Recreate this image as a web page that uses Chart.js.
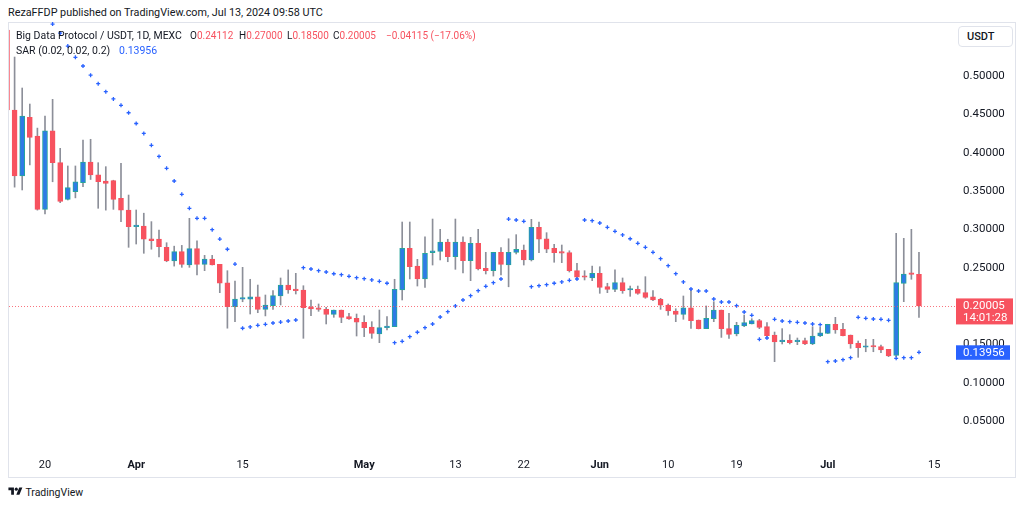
<!DOCTYPE html>
<html>
<head>
<meta charset="utf-8">
<script src="https://cdn.jsdelivr.net/npm/chart.js@4.4.1/dist/chart.umd.min.js"></script>
<style>
  html, body { margin: 0; padding: 0; background: #fff; }
  body { width: 1024px; height: 507px; position: relative; overflow: hidden;
         font-family: Roboto, "Noto Sans", sans-serif; color: #131722; }
  .t { position: absolute; white-space: nowrap; line-height: 14px; }
  .lg { font-size: 10px; top: 29px; }
  #pane { position: absolute; left: 8px; top: 22px; width: 1008px; height: 456px;
          border: 1px solid #e0e3eb; box-sizing: border-box; }
  #chart { position: absolute; left: 8px; top: 22px; }
  .red { color: #f7525f; }
  .blue { color: #2962ff; }
  #usdt { position: absolute; left: 958px; top: 26px; width: 55px; height: 21px; box-sizing: border-box;
          border: 1px solid #e0e3eb; border-radius: 4px; font-size: 11px; font-weight: 500;
          line-height: 19px; padding-left: 8px; background: #fff; }
</style>
</head>
<body>
<div class="t" id="hdr" style="left:8px;top:6px;font-size:10.8px;">RezaFFDP published on TradingView.com, Jul 13, 2024 09:58 UTC</div>
<div id="pane"></div>
<canvas id="chart" width="1008" height="456"></canvas>

<!-- легенда -->
<div class="t lg" style="left:16px;font-size:10.5px;">Big Data Protocol / USDT, 1D, MEXC</div>
<div class="t lg" style="left:190px;">O<span class="red">0.24112</span></div>
<div class="t lg" style="left:239px;">H<span class="red">0.27000</span></div>
<div class="t lg" style="left:287px;">L<span class="red">0.18500</span></div>
<div class="t lg" style="left:333px;">C<span class="red">0.20005</span></div>
<div class="t lg red" style="left:386px;">−0.04115 (−17.06%)</div>
<div class="t" style="left:16px;top:44px;font-size:10.5px;">SAR (0.02, 0.02, 0.2)</div>
<div class="t blue" style="left:119px;top:44px;font-size:10.5px;">0.13956</div>
<div id="usdt">USDT</div>

<!-- логотип -->
<div class="t" style="left:8px;top:486px;font-size:10.5px;">
  <svg width="15" height="11" viewBox="0 0 36 28" style="vertical-align:-1px"><path d="M14 22H7V11H0V4h14v18zM28 22h-8l7.5-18h8L28 22z" fill="#131722"/><circle cx="20" cy="8" r="4" fill="#131722"/></svg>
  TradingView
</div>

<script>
// Дані: дні від 15 березня 2024 (індекс 0) до 13 липня 2024 (індекс 120)
const startDate = "2024-03-15";

const opens = [
  0.560, 0.4556, 0.3695, 0.446, 0.4217, 0.326, 0.4286, 0.3869, 0.339, 0.349,
  0.3608, 0.3878, 0.3712, 0.363, 0.3634, 0.3404, 0.3252, 0.3034, 0.3043, 0.2877,
  0.2873, 0.2765, 0.2586, 0.2708, 0.2534, 0.2747, 0.2543, 0.261, 0.2543, 0.2303,
  0.199, 0.209, 0.209, 0.212, 0.1956, 0.2003, 0.213, 0.2273, 0.2217, 0.2208,
  0.199, 0.1965, 0.1956, 0.1891, 0.1947, 0.186, 0.1839, 0.1787, 0.1726, 0.1634,
  0.1717, 0.173, 0.2208, 0.2752, 0.2521, 0.2352, 0.2695, 0.2713, 0.2834, 0.2643,
  0.2834, 0.259, 0.2817, 0.249, 0.246, 0.270, 0.2534, 0.270, 0.273, 0.260,
  0.3026, 0.2877, 0.2752, 0.2708, 0.2695, 0.246, 0.2387, 0.2365, 0.2426, 0.2252,
  0.2217, 0.2304, 0.2208, 0.2217, 0.2173, 0.212, 0.2087, 0.2013, 0.1934, 0.1891,
  0.1977, 0.1817, 0.1704, 0.1834, 0.1947, 0.1704, 0.1634, 0.1739, 0.1765, 0.1808,
  0.173, 0.1621, 0.1534, 0.1552, 0.1534, 0.1547, 0.1504, 0.1608, 0.1643, 0.1761,
  0.1695, 0.1621, 0.1513, 0.1461, 0.1469, 0.1469, 0.1434, 0.1356, 0.2295, 0.2417,
  0.24112
];
const highs = [
  0.585, 0.5247, 0.4843, 0.4634, 0.432, 0.4478, 0.4695, 0.4056, 0.3826, 0.3826,
  0.4165, 0.4174, 0.3869, 0.3817, 0.3640, 0.386, 0.3447, 0.3252, 0.321, 0.310,
  0.299, 0.2825, 0.278, 0.279, 0.3143, 0.285, 0.266, 0.266, 0.2543, 0.246,
  0.2326, 0.2504, 0.2348, 0.2273, 0.2143, 0.220, 0.2365, 0.247, 0.2426, 0.2264,
  0.2078, 0.2026, 0.1982, 0.1947, 0.1947, 0.1904, 0.1895, 0.1873, 0.1795, 0.1947,
  0.186, 0.2348, 0.3095, 0.3095, 0.2608, 0.2903, 0.3134, 0.300, 0.287, 0.3134,
  0.2903, 0.2895, 0.300, 0.270, 0.270, 0.276, 0.2877, 0.293, 0.2795, 0.313,
  0.3095, 0.2956, 0.2804, 0.2795, 0.272, 0.2556, 0.246, 0.252, 0.2512, 0.2296,
  0.247, 0.2365, 0.226, 0.226, 0.2382, 0.220, 0.210, 0.2026, 0.1964, 0.213,
  0.2208, 0.1817, 0.200, 0.2056, 0.1947, 0.1904, 0.1787, 0.1882, 0.1834, 0.1826,
  0.1782, 0.166, 0.1704, 0.1625, 0.1582, 0.1582, 0.173, 0.1721, 0.1761, 0.1852,
  0.1774, 0.1621, 0.1543, 0.1565, 0.1565, 0.149, 0.1434, 0.2948, 0.2882, 0.300,
  0.270
];
const lows = [
  0.450, 0.355, 0.3513, 0.384, 0.325, 0.320, 0.362, 0.3347, 0.3382, 0.341,
  0.3556, 0.365, 0.3274, 0.325, 0.326, 0.310, 0.2765, 0.2808, 0.2687, 0.274,
  0.264, 0.2577, 0.252, 0.2504, 0.2504, 0.2404, 0.246, 0.2534, 0.2173, 0.171,
  0.1795, 0.2055, 0.1895, 0.1912, 0.187, 0.1956, 0.2013, 0.2165, 0.2156, 0.1578,
  0.1874, 0.193, 0.1765, 0.1852, 0.1782, 0.1826, 0.1608, 0.160, 0.1578, 0.1521,
  0.1687, 0.173, 0.2078, 0.2352, 0.226, 0.2243, 0.2534, 0.260, 0.2577, 0.2478,
  0.243, 0.233, 0.247, 0.2417, 0.239, 0.2404, 0.225, 0.2678, 0.2534, 0.2587,
  0.2695, 0.2695, 0.257, 0.2565, 0.2443, 0.2348, 0.2339, 0.233, 0.2165, 0.2173,
  0.2186, 0.2165, 0.2126, 0.2152, 0.210, 0.2069, 0.1956, 0.1878, 0.1795, 0.1826,
  0.1708, 0.170, 0.1704, 0.1795, 0.159, 0.1578, 0.161, 0.173, 0.1765, 0.1704,
  0.160, 0.1273, 0.1504, 0.1504, 0.1495, 0.1495, 0.1495, 0.160, 0.164, 0.1643,
  0.1608, 0.1448, 0.133, 0.1403, 0.1403, 0.139, 0.1339, 0.1339, 0.2056, 0.2348,
  0.185
];
const closes = [
  0.4556, 0.3695, 0.4478, 0.420, 0.326, 0.4286, 0.3869, 0.3365, 0.3543, 0.362,
  0.3878, 0.371, 0.362, 0.360, 0.3391, 0.325, 0.3034, 0.304, 0.287, 0.2852,
  0.2773, 0.2586, 0.2708, 0.2543, 0.2747, 0.2543, 0.261, 0.2534, 0.2296, 0.199,
  0.209, 0.2095, 0.212, 0.1956, 0.2013, 0.2134, 0.2273, 0.2208, 0.220, 0.1977,
  0.196, 0.1956, 0.1891, 0.1947, 0.1852, 0.183, 0.1787, 0.1717, 0.1643, 0.1717,
  0.1739, 0.2217, 0.2752, 0.2512, 0.2352, 0.2687, 0.272, 0.2834, 0.2643, 0.2834,
  0.259, 0.2817, 0.2482, 0.246, 0.270, 0.2543, 0.270, 0.2739, 0.260, 0.3026,
  0.287, 0.274, 0.2695, 0.2687, 0.246, 0.2374, 0.2374, 0.2426, 0.2243, 0.2217,
  0.2304, 0.220, 0.2213, 0.2165, 0.2113, 0.2078, 0.2009, 0.1934, 0.1891, 0.1977,
  0.1808, 0.1704, 0.1839, 0.1947, 0.1704, 0.163, 0.1748, 0.1782, 0.1808, 0.1721,
  0.1612, 0.153, 0.1543, 0.1521, 0.1539, 0.1504, 0.1608, 0.1651, 0.1761, 0.1687,
  0.1612, 0.1504, 0.1456, 0.1465, 0.1465, 0.1426, 0.1347, 0.2304, 0.2417, 0.24112,
  0.20005
];
// Parabolic SAR (0.02, 0.02, 0.2); перші точки за межами видимої області
const sarValues = [
  null, null, null, null, null, null, 0.5677, 0.556, 0.539, 0.5243,
  0.513, 0.501, 0.490, 0.4795, 0.470, 0.4617, 0.452, 0.438, 0.425, 0.4096,
  0.395, 0.3795, 0.363, 0.3456, 0.3274, 0.3143, 0.3143, 0.2995, 0.2873, 0.274,
  0.2547, 0.1709, 0.1726, 0.1748, 0.176, 0.1778, 0.179, 0.1804, 0.1817, 0.250,
  0.2482, 0.246, 0.2443, 0.242, 0.2408, 0.2387, 0.2369, 0.2356, 0.2339, 0.2322,
  0.2296, 0.1521, 0.1539, 0.160, 0.1657, 0.1717, 0.1765, 0.1856, 0.1925, 0.200,
  0.2078, 0.2134, 0.220, 0.2256, 0.2304, 0.2352, 0.3134, 0.3121, 0.3104, 0.2252,
  0.2265, 0.2278, 0.2296, 0.2313, 0.2335, 0.2352, 0.3121, 0.3112, 0.3082, 0.3026,
  0.2974, 0.2926, 0.2877, 0.2817, 0.2765, 0.270, 0.2617, 0.2525, 0.2421, 0.2313,
  0.2221, 0.2195, 0.2195, 0.2091, 0.2052, 0.2052, 0.2004, 0.1921, 0.1878, 0.1565,
  0.1582, 0.1826, 0.1804, 0.1795, 0.1787, 0.1778, 0.1765, 0.1756, 0.1273, 0.1282,
  0.130, 0.1325, 0.1852, 0.1839, 0.183, 0.1826, 0.1813, 0.1317, 0.1325, 0.1325,
  0.13956
];

// Підписи осей
const timeTickIdx = [5, 17, 31, 47, 59, 68, 78, 87, 96, 108, 122];
const timeTickLabels = ["20", "Apr", "15", "May", "13", "22", "Jun", "10", "19", "Jul", "15"];
const monthLabels = ["Apr", "May", "Jun", "Jul"];
const priceTicks = [0.05, 0.10, 0.15, 0.20, 0.25, 0.30, 0.35, 0.40, 0.45, 0.50];

const lastClose = 0.20005;
const lastSar = 0.13956;
const countdown = "14:01:28";

// Кольори
const UP = "#2e7be6";
const UP_BORDER = "#26a69a";
const DOWN = "#f7525f";
const WICK = "#8c8f99";
const SAR_COLOR = "#2962ff";
const FONT = "Roboto, 'Noto Sans', sans-serif";

// 1) Набори даних для свічок
const isUp = closes.map((c, i) => c >= opens[i]);
const wickData = opens.map((o, i) => ({ x: i, y: [lows[i], highs[i]] }));
const bodyData = opens.map((o, i) => ({ x: i, y: [o, closes[i]] }));
const sarData = sarValues.map((v, i) => ({ x: i, y: v }));

// 2) Плагін: пунктир останньої ціни та мітки на шкалі
const priceTags = {
  id: "priceTags",
  afterDraw(chart) {
    const { ctx, chartArea, scales } = chart;
    const yClose = scales.y.getPixelForValue(lastClose);
    const ySar = scales.y.getPixelForValue(lastSar);
    ctx.save();
    ctx.strokeStyle = "rgba(247,82,95,0.8)";
    ctx.lineWidth = 1;
    ctx.setLineDash([1, 2]);
    ctx.beginPath();
    ctx.moveTo(chartArea.left, Math.round(yClose) + 0.5);
    ctx.lineTo(chartArea.right + 8, Math.round(yClose) + 0.5);
    ctx.stroke();
    ctx.setLineDash([]);

    const x0 = chartArea.right + 8;
    ctx.fillStyle = DOWN;
    ctx.fillRect(x0, yClose - 7.5, 57, 26);
    ctx.fillStyle = SAR_COLOR;
    ctx.fillRect(x0, ySar - 7, 54, 14.5);

    ctx.fillStyle = "#fff";
    ctx.font = "11.5px " + FONT;
    ctx.textBaseline = "middle";
    ctx.fillText(lastClose.toFixed(5), x0 + 7, yClose + 0.5);
    ctx.fillText(countdown, x0 + 7, yClose + 12);
    ctx.fillText(lastSar.toFixed(5), x0 + 7, ySar + 0.5);
    ctx.restore();
  }
};

// 3) Chart.js ініціалізація
const chart = new Chart(document.getElementById("chart").getContext("2d"), {
  type: "bar",
  data: {
    datasets: [
      {
        label: "wick",
        data: wickData,
        backgroundColor: WICK,
        barThickness: 1,
        grouped: false,
        order: 3
      },
      {
        label: "body",
        data: bodyData,
        backgroundColor: isUp.map(u => (u ? UP : DOWN)),
        borderColor: isUp.map(u => (u ? UP_BORDER : DOWN)),
        borderWidth: 1,
        borderSkipped: false,
        barThickness: 5,
        minBarLength: 1.5,
        grouped: false,
        order: 2
      },
      {
        type: "line",
        label: "SAR",
        data: sarData,
        showLine: false,
        pointStyle: "cross",
        pointRadius: 2,
        pointBorderWidth: 1.3,
        pointBorderColor: SAR_COLOR,
        borderColor: SAR_COLOR,
        order: 1
      }
    ]
  },
  options: {
    responsive: false,
    animation: false,
    layout: { padding: { left: 1, top: 0, right: 0, bottom: 0 }, autoPadding: false },
    plugins: {
      legend: { display: false },
      tooltip: { enabled: false }
    },
    scales: {
      x: {
        type: "linear",
        min: 0.263,
        max: 123.82,
        offset: false,
        grid: { display: false, drawTicks: false },
        border: { display: false },
        afterBuildTicks: s => { s.ticks = timeTickIdx.map(v => ({ value: v })); },
        afterFit: s => { s.height = 24; s.paddingLeft = 0; s.paddingRight = 0; },
        ticks: {
          autoSkip: false,
          maxRotation: 0,
          padding: 5,
          color: "#131722",
          font: c => ({
            family: FONT,
            size: 11,
            weight: monthLabels.includes(timeTickLabels[c.index]) ? "bold" : "normal"
          }),
          callback: (v, i) => timeTickLabels[i]
        }
      },
      y: {
        position: "right",
        min: 0.0069,
        max: 0.5704,
        grid: { display: false, drawTicks: false },
        border: { display: false },
        afterBuildTicks: s => { s.ticks = priceTicks.map(v => ({ value: v })); },
        afterFit: s => { s.width = 68; s.paddingTop = 0; s.paddingBottom = 0; },
        ticks: {
          padding: 15,
          color: "#131722",
          font: { family: FONT, size: 11.5 },
          callback: v => v.toFixed(5)
        }
      }
    }
  },
  plugins: [priceTags]
});
</script>
</body>
</html>
